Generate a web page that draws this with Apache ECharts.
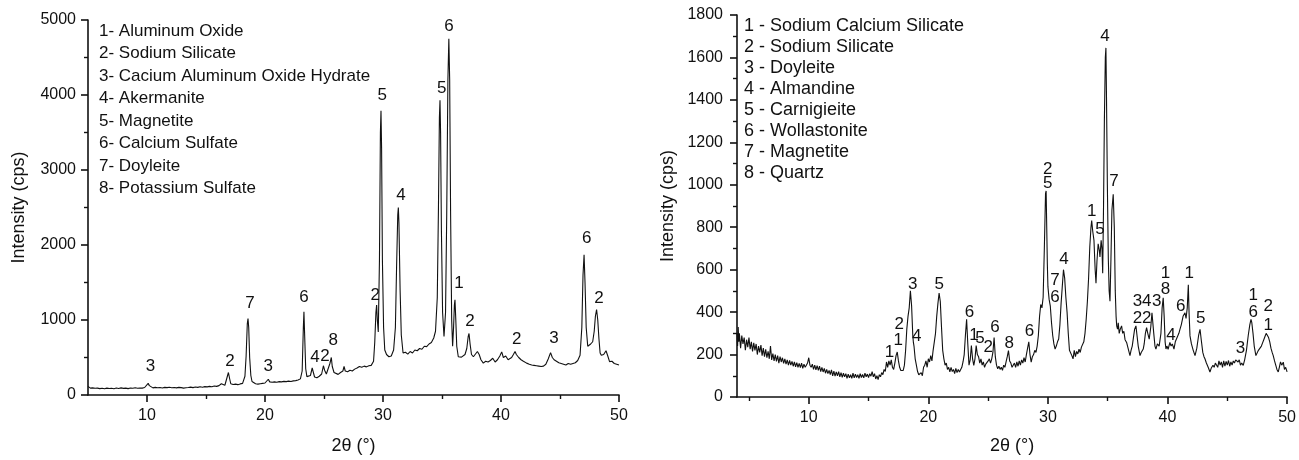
<!DOCTYPE html>
<html><head><meta charset="utf-8">
<script src="https://cdn.jsdelivr.net/npm/echarts@6/dist/echarts.min.js"></script>
<style>html,body{margin:0;padding:0;background:#fff}#c{width:1299px;height:460px}</style>
</head><body><div id="c"></div>
<script>
// ---- Left pattern: [2theta, intensity]
const patternA = [
[5.0,115],[5.1,100],[5.2,92],[5.3,88],[5.4,95],[5.5,85],[5.6,90],[5.7,82],[5.8,92],[5.9,88],[6.0,85],[6.2,90],[6.4,83],[6.6,92],[6.8,86],[7.0,90],[7.2,84],[7.4,93],[7.6,87],[7.8,95],[8.0,88],[8.2,92],[8.4,85],[8.6,94],[8.8,89],[9.0,96],[9.2,90],[9.4,94],[9.6,92],[9.8,100],[9.95,120],[10.1,155],[10.2,125],[10.3,100],[10.5,95],[10.7,102],[10.9,96],[11.1,100],[11.3,94],[11.5,102],[11.7,98],[11.9,104],[12.1,96],[12.3,100],[12.5,95],[12.7,102],[12.9,98],[13.1,92],[13.3,96],[13.5,100],[13.7,105],[13.9,98],[14.1,106],[14.3,102],[14.5,110],[14.7,104],[14.9,112],[15.1,108],[15.3,115],[15.5,110],[15.7,120],[15.9,115],[16.1,125],[16.3,150],[16.4,140],[16.6,130],[16.75,150],[16.9,300],[17.0,220],[17.1,150],[17.3,140],[17.5,145],[17.7,138],[17.9,148],[18.1,155],[18.3,250],[18.4,520],[18.5,950],[18.56,1020],[18.62,900],[18.7,500],[18.8,260],[18.9,180],[19.0,155],[19.2,150],[19.4,145],[19.6,150],[19.8,155],[20.0,160],[20.15,175],[20.28,210],[20.4,175],[20.6,170],[20.8,175],[21.0,170],[21.2,178],[21.4,175],[21.6,182],[21.8,178],[22.0,185],[22.2,180],[22.4,188],[22.6,192],[22.8,200],[23.0,215],[23.15,320],[23.25,900],[23.3,1110],[23.35,850],[23.45,350],[23.55,245],[23.7,240],[23.85,260],[24.0,360],[24.1,300],[24.2,240],[24.4,230],[24.6,250],[24.8,280],[24.95,390],[25.05,330],[25.2,280],[25.35,300],[25.5,420],[25.62,500],[25.7,380],[25.85,300],[26.0,290],[26.2,275],[26.4,300],[26.6,320],[26.7,380],[26.8,320],[27.0,310],[27.2,330],[27.4,320],[27.6,345],[27.8,360],[28.0,380],[28.2,370],[28.4,385],[28.6,375],[28.8,390],[29.0,395],[29.1,410],[29.2,450],[29.3,700],[29.4,1100],[29.46,1200],[29.52,1000],[29.6,840],[29.7,1800],[29.78,3500],[29.83,3790],[29.88,3300],[29.95,1800],[30.05,900],[30.15,600],[30.3,540],[30.5,510],[30.7,520],[30.9,600],[31.05,900],[31.15,1700],[31.25,2400],[31.3,2500],[31.35,2300],[31.45,1400],[31.55,800],[31.7,560],[31.9,570],[32.1,545],[32.3,580],[32.5,560],[32.7,600],[32.9,590],[33.1,620],[33.3,610],[33.5,650],[33.7,645],[33.9,680],[34.1,700],[34.3,760],[34.45,850],[34.6,1300],[34.7,2500],[34.78,3700],[34.83,3930],[34.88,3500],[34.95,2200],[35.05,1100],[35.17,780],[35.3,1100],[35.4,2400],[35.5,4200],[35.58,4750],[35.65,4200],[35.73,2400],[35.82,1000],[35.9,650],[35.98,900],[36.05,1200],[36.1,1270],[36.17,1000],[36.25,650],[36.38,510],[36.5,520],[36.65,505],[36.8,515],[36.95,540],[37.1,620],[37.22,780],[37.29,820],[37.38,680],[37.5,540],[37.66,510],[37.8,530],[38.0,580],[38.15,540],[38.3,470],[38.5,425],[38.7,450],[38.9,440],[39.1,460],[39.3,490],[39.5,440],[39.7,470],[39.9,520],[40.06,575],[40.2,500],[40.4,520],[40.6,470],[40.76,445],[40.9,500],[41.05,540],[41.19,580],[41.3,540],[41.5,500],[41.7,470],[41.9,450],[42.17,425],[42.4,410],[42.6,400],[42.8,395],[43.0,390],[43.2,385],[43.4,380],[43.6,385],[43.8,410],[44.0,480],[44.2,565],[44.35,500],[44.5,470],[44.7,450],[44.9,430],[45.1,420],[45.3,410],[45.5,400],[45.7,420],[45.9,410],[46.1,420],[46.3,430],[46.5,460],[46.7,530],[46.85,900],[46.95,1600],[47.04,1870],[47.12,1500],[47.22,900],[47.35,650],[47.48,645],[47.6,680],[47.77,710],[47.9,850],[48.0,1050],[48.1,1140],[48.2,1000],[48.3,750],[48.4,560],[48.5,530],[48.7,540],[48.9,590],[49.05,520],[49.2,445],[49.4,450],[49.6,420],[49.8,410],[50.0,400]
];
// ---- Right pattern: [2theta, intensity]
const patternB = [
[4.0,300],[4.05,240],[4.1,330],[4.15,260],[4.2,300],[4.3,230],[4.4,290],[4.5,250],[4.6,280],[4.7,220],[4.8,270],[4.9,235],[5.0,280],[5.1,225],[5.2,260],[5.3,215],[5.4,255],[5.5,220],[5.6,250],[5.7,200],[5.8,240],[5.9,210],[6.0,245],[6.1,195],[6.2,230],[6.3,190],[6.4,225],[6.5,185],[6.6,215],[6.7,180],[6.8,240],[6.9,175],[7.0,205],[7.1,170],[7.2,200],[7.3,168],[7.4,195],[7.5,160],[7.6,190],[7.7,165],[7.8,185],[7.9,158],[8.0,180],[8.1,155],[8.2,175],[8.3,150],[8.4,172],[8.5,150],[8.6,168],[8.7,145],[8.8,165],[8.9,142],[9.0,162],[9.1,140],[9.2,158],[9.3,138],[9.4,160],[9.5,135],[9.6,155],[9.7,140],[9.8,150],[9.9,160],[10.0,185],[10.1,150],[10.2,140],[10.3,155],[10.4,130],[10.5,150],[10.6,128],[10.7,148],[10.8,125],[10.9,145],[11.0,120],[11.1,140],[11.2,118],[11.3,135],[11.4,112],[11.5,130],[11.6,110],[11.7,125],[11.8,105],[11.9,128],[12.0,100],[12.1,122],[12.2,98],[12.3,118],[12.4,100],[12.5,120],[12.6,95],[12.7,115],[12.8,92],[12.9,112],[13.0,95],[13.1,110],[13.2,88],[13.3,108],[13.4,90],[13.5,105],[13.6,88],[13.7,112],[13.8,90],[13.9,108],[14.0,92],[14.1,105],[14.2,88],[14.3,110],[14.4,92],[14.5,106],[14.6,90],[14.7,112],[14.8,95],[14.9,108],[15.0,92],[15.1,110],[15.2,98],[15.3,120],[15.4,95],[15.5,110],[15.6,85],[15.7,100],[15.8,82],[15.9,105],[16.0,95],[16.1,115],[16.2,105],[16.3,130],[16.4,120],[16.5,165],[16.6,140],[16.7,170],[16.8,150],[16.9,175],[17.0,140],[17.1,130],[17.2,160],[17.3,195],[17.4,212],[17.5,170],[17.6,140],[17.7,125],[17.8,118],[17.9,125],[18.0,150],[18.1,220],[18.2,320],[18.3,380],[18.4,420],[18.5,500],[18.6,430],[18.7,290],[18.75,257],[18.8,240],[18.9,180],[19.0,150],[19.1,120],[19.2,105],[19.3,100],[19.4,115],[19.5,100],[19.6,140],[19.7,150],[19.8,170],[19.9,140],[20.0,180],[20.1,165],[20.2,195],[20.3,170],[20.4,220],[20.5,260],[20.6,300],[20.7,380],[20.8,440],[20.9,490],[21.0,450],[21.1,330],[21.2,220],[21.3,180],[21.4,150],[21.5,160],[21.6,130],[21.7,140],[21.8,118],[21.9,140],[22.0,120],[22.1,130],[22.2,110],[22.3,135],[22.4,115],[22.5,130],[22.6,118],[22.7,125],[22.8,140],[22.9,165],[23.0,200],[23.1,290],[23.2,366],[23.3,250],[23.4,150],[23.5,175],[23.6,242],[23.7,180],[23.8,149],[23.9,180],[24.0,242],[24.1,200],[24.2,190],[24.3,160],[24.4,180],[24.5,150],[24.6,165],[24.7,140],[24.8,155],[24.9,149],[25.0,170],[25.1,180],[25.2,160],[25.3,180],[25.4,210],[25.5,280],[25.6,190],[25.7,150],[25.8,133],[25.9,145],[26.0,130],[26.1,140],[26.2,126],[26.3,150],[26.4,140],[26.5,165],[26.6,190],[26.7,219],[26.8,170],[26.9,160],[27.0,140],[27.1,133],[27.2,160],[27.3,140],[27.4,165],[27.5,145],[27.6,170],[27.7,150],[27.8,175],[27.9,160],[28.0,185],[28.1,165],[28.2,200],[28.3,230],[28.4,260],[28.5,200],[28.6,164],[28.7,190],[28.8,200],[28.9,220],[29.0,210],[29.1,240],[29.2,290],[29.3,380],[29.4,436],[29.5,420],[29.6,470],[29.7,700],[29.8,960],[29.85,971],[29.9,800],[29.95,629],[30.0,520],[30.1,460],[30.2,428],[30.3,350],[30.4,290],[30.5,250],[30.6,226],[30.7,240],[30.8,260],[30.9,273],[31.0,340],[31.1,440],[31.2,520],[31.3,600],[31.35,606],[31.4,560],[31.5,470],[31.6,400],[31.7,300],[31.8,220],[31.9,211],[32.0,195],[32.1,180],[32.2,220],[32.3,190],[32.4,215],[32.5,203],[32.6,225],[32.7,210],[32.8,235],[32.9,242],[33.0,260],[33.1,300],[33.2,366],[33.3,450],[33.4,560],[33.5,707],[33.6,800],[33.66,831],[33.75,780],[33.85,738],[33.95,600],[34.02,536],[34.1,640],[34.2,722],[34.3,690],[34.35,660],[34.45,738],[34.52,700],[34.58,583],[34.65,900],[34.72,1300],[34.8,1600],[34.85,1645],[34.9,1400],[34.97,1000],[35.05,650],[35.12,500],[35.19,451],[35.27,650],[35.35,880],[35.46,955],[35.55,800],[35.63,500],[35.7,380],[35.75,335],[35.82,320],[35.88,350],[35.96,300],[36.05,320],[36.16,335],[36.25,300],[36.35,310],[36.45,270],[36.58,257],[36.7,230],[36.86,195],[36.95,220],[37.05,240],[37.15,280],[37.25,320],[37.36,335],[37.45,290],[37.55,240],[37.7,195],[37.8,210],[37.97,226],[38.05,250],[38.15,300],[38.25,327],[38.35,300],[38.47,273],[38.6,330],[38.7,397],[38.76,397],[38.85,300],[38.95,240],[39.03,226],[39.15,250],[39.3,240],[39.45,300],[39.55,420],[39.64,467],[39.72,380],[39.8,260],[39.87,226],[39.95,240],[40.05,225],[40.2,257],[40.3,240],[40.4,250],[40.54,226],[40.65,260],[40.8,280],[40.95,300],[41.04,319],[41.15,340],[41.3,380],[41.46,397],[41.55,370],[41.65,420],[41.74,529],[41.8,400],[41.88,288],[42.0,250],[42.15,220],[42.3,195],[42.45,230],[42.6,290],[42.72,319],[42.82,270],[42.95,210],[43.05,190],[43.13,180],[43.25,160],[43.4,140],[43.55,118],[43.65,135],[43.8,150],[43.9,140],[44.0,160],[44.1,164],[44.2,140],[44.3,170],[44.4,150],[44.5,165],[44.6,140],[44.7,170],[44.8,145],[44.9,168],[45.0,150],[45.1,172],[45.2,145],[45.3,165],[45.4,150],[45.5,170],[45.6,160],[45.7,175],[45.78,180],[45.9,165],[46.0,175],[46.1,150],[46.2,160],[46.33,149],[46.45,175],[46.6,220],[46.75,290],[46.88,340],[46.98,366],[47.05,350],[47.15,300],[47.25,240],[47.39,195],[47.5,200],[47.6,220],[47.73,211],[47.85,240],[47.95,255],[48.05,270],[48.15,285],[48.25,300],[48.34,304],[48.45,280],[48.55,260],[48.65,230],[48.75,210],[48.84,195],[48.95,170],[49.05,150],[49.15,130],[49.26,118],[49.35,140],[49.45,165],[49.55,150],[49.68,164],[49.78,130],[49.88,140],[50.0,118]
];
// ---- Peak annotations: [2theta, intensity, text]
const peakLabelsA = [
[10.3,377,'3'],[17.03,444,'2'],[18.73,1222,'7'],[20.28,377,'3'],[23.3,1297,'6'],[24.24,497,'4'],[25.08,511,'2'],[25.79,724,'8'],[29.35,1333,'2'],[29.94,3990,'5'],[31.53,2667,'4'],[34.97,4089,'5'],[35.59,4911,'6'],[36.44,1489,'1'],[37.37,987,'2'],[41.33,747,'2'],[44.49,756,'3'],[47.26,2089,'6'],[48.3,1289,'2']
];
const peakLabelsB = [
[16.74,211,'1'],[17.49,265,'1'],[17.57,343,'2'],[18.69,529,'3'],[19.02,288,'4'],[20.92,529,'5'],[23.44,397,'6'],[23.82,292,'1'],[24.32,276,'5'],[25.01,234,'2'],[25.57,330,'6'],[26.77,254,'8'],[28.45,308,'6'],[29.98,1071,'2'],[29.98,1005,'5'],[30.59,552,'7'],[30.59,471,'6'],[31.34,648,'4'],[33.66,877,'1'],[34.35,792,'5'],[34.77,1699,'4'],[35.52,1017,'7'],[37.48,451,'3'],[38.26,451,'4'],[39.09,451,'3'],[37.48,373,'2'],[38.26,373,'2'],[39.82,583,'1'],[39.82,506,'8'],[41.1,428,'6'],[41.82,583,'1'],[40.29,292,'4'],[42.77,369,'5'],[46.11,229,'3'],[47.17,478,'1'],[47.17,400,'6'],[48.42,428,'2'],[48.42,338,'1']
];
const legendA = ['1- Aluminum Oxide','2- Sodium Silicate','3- Cacium Aluminum Oxide Hydrate','4- Akermanite','5- Magnetite','6- Calcium Sulfate','7- Doyleite','8- Potassium Sulfate'];
const legendB = ['1 - Sodium Calcium Silicate','2 - Sodium Silicate','3 - Doyleite','4 - Almandine','5 - Carnigieite','6 - Wollastonite','7 - Magnetite','8 - Quartz'];
const xMajorTicks = [10,20,30,40,50];
const xMinorTicksA = [15,25,35,45];
const xMinorTicksB = [5,15,25,35,45];
const xTitle = '2θ (°)';
const yTitle = 'Intensity (cps)';

const FONT = "'Liberation Sans', Arial, sans-serif";
const INK = '#111111';

function mainX(grid, min, nameGap) {
  return {type:'value', gridIndex:grid, min:min, max:50, position:'bottom',
    axisLine:{show:true, onZero:false, lineStyle:{color:INK, width:1.6}},
    axisTick:{show:true, customValues:xMajorTicks, length:7, lineStyle:{color:INK, width:1.6}},
    axisLabel:{customValues:xMajorTicks, color:INK, fontSize:16, fontFamily:FONT, margin:13, formatter:v=>String(v)},
    splitLine:{show:false},
    name:xTitle, nameLocation:'middle', nameGap:nameGap,
    nameTextStyle:{color:INK, fontSize:18, fontFamily:FONT}};
}
function minorX(grid, min, ticks) {
  return {type:'value', gridIndex:grid, min:min, max:50, position:'bottom',
    axisLine:{show:false, onZero:false}, axisLabel:{show:false},
    axisTick:{show:true, customValues:ticks, length:4, lineStyle:{color:INK, width:1.4}},
    splitLine:{show:false}};
}
function yAx(grid, max, interval, nameGap, margin) {
  return {type:'value', gridIndex:grid, min:0, max:max, interval:interval,
    axisLine:{show:true, onZero:false, lineStyle:{color:INK, width:1.6}},
    axisTick:{show:true, length:7, lineStyle:{color:INK, width:1.6}},
    minorTick:{show:true, splitNumber:2, length:4, lineStyle:{color:INK, width:1.4}},
    axisLabel:{color:INK, fontSize:16, fontFamily:FONT, margin:margin, formatter:v=>String(v)},
    splitLine:{show:false}, minorSplitLine:{show:false},
    name:yTitle, nameLocation:'middle', nameGap:nameGap, nameRotate:90,
    nameTextStyle:{color:INK, fontSize:18, fontFamily:FONT}};
}
function labelSeries(xi, yi, data) {
  return {type:'scatter', xAxisIndex:xi, yAxisIndex:yi, data:data, symbolSize:1, silent:true,
    itemStyle:{color:'rgba(0,0,0,0)'},
    label:{show:true, position:'inside', formatter:p=>p.value[2], color:INK, opacity:1,
      textBorderWidth:0, fontSize:17, fontFamily:FONT}};
}

const chart = echarts.init(document.getElementById('c'), null, {renderer:'canvas'});
chart.setOption({
  animation:false,
  backgroundColor:'#fff',
  grid:[{left:88, top:20, width:531, height:375},{left:737, top:15, width:551, height:387}],
  xAxis:[mainX(0,5,42), minorX(0,5,xMinorTicksA), mainX(1,4,40), minorX(1,4,xMinorTicksB)],
  yAxis:[yAx(0,5000,1000,60,12), yAx(1,1800,200,60,14)],
  series:[
    {type:'line', xAxisIndex:0, yAxisIndex:0, data:patternA, showSymbol:false, sampling:'none', lineStyle:{color:INK, width:1.1}},
    {type:'line', xAxisIndex:2, yAxisIndex:1, data:patternB, showSymbol:false, sampling:'none', lineStyle:{color:INK, width:1.1}},
    labelSeries(0,0,peakLabelsA),
    labelSeries(2,1,peakLabelsB)
  ],
  graphic:[
    {type:'text', left:99, top:20, style:{text:legendA.join('\n'), fill:INK, font:'17px '+FONT, lineHeight:22.5}},
    {type:'text', left:744, top:16, style:{text:legendB.join('\n'), fill:INK, font:'18px '+FONT, lineHeight:21}}
  ]
});
</script></body></html>
